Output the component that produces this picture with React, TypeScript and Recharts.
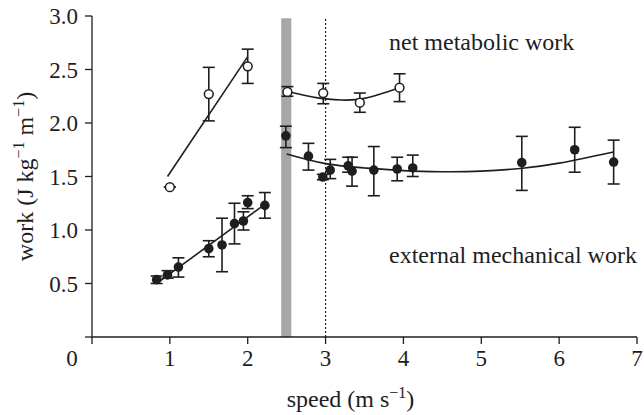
import {
  ComposedChart,
  XAxis,
  YAxis,
  Line,
  Scatter,
  ErrorBar,
  ReferenceArea,
  ReferenceLine,
  Label,
  Customized,
} from "recharts"

const INK = "#1e1e1e"
const FONT = "Liberation Serif"

// net metabolic work (open circles)
const openX = [1.0, 1.5, 2.0, 2.51, 2.97, 3.44, 3.95]
const openY = [1.4, 2.27, 2.53, 2.29, 2.28, 2.19, 2.33]
const openLo = [1.4, 2.02, 2.37, 2.25, 2.18, 2.1, 2.2]
const openHi = [1.4, 2.52, 2.69, 2.34, 2.37, 2.28, 2.46]

// external mechanical work (filled circles)
const filledX = [0.83, 0.97, 1.11, 1.5, 1.67, 1.83, 1.945, 2.0, 2.22, 2.49, 2.78, 2.965, 3.06, 3.29, 3.34, 3.62, 3.92, 4.12, 5.52, 6.2, 6.7]
const filledY = [0.536, 0.58, 0.654, 0.826, 0.86, 1.06, 1.084, 1.256, 1.23, 1.88, 1.69, 1.495, 1.56, 1.6, 1.55, 1.56, 1.57, 1.58, 1.63, 1.75, 1.635]
const filledLo = [0.5, 0.55, 0.56, 0.75, 0.61, 0.87, 1.0, 1.2, 1.11, 1.77, 1.56, 1.47, 1.48, 1.54, 1.41, 1.32, 1.46, 1.5, 1.37, 1.54, 1.43]
const filledHi = [0.57, 0.62, 0.74, 0.9, 1.11, 1.25, 1.17, 1.32, 1.35, 1.97, 1.81, 1.52, 1.66, 1.68, 1.68, 1.78, 1.68, 1.7, 1.875, 1.96, 1.84]

// fitted lines
const openFitLeftX = [0.97, 2.0]
const openFitLeftY = [1.5, 2.62]
const openFitRightX = [2.54, 2.9, 3.2, 3.5, 3.95]
const openFitRightY = [2.29, 2.235, 2.215, 2.23, 2.33]
const filledFitLeftX = [0.85, 2.22]
const filledFitLeftY = [0.51, 1.24]
const filledFitRightX = [2.5, 3.0, 3.5, 4.0, 4.5, 5.0, 5.5, 6.0, 6.7]
const filledFitRightY = [1.71, 1.62, 1.58, 1.555, 1.545, 1.55, 1.575, 1.625, 1.73]

const xTicks = [0, 1, 2, 3, 4, 5, 6, 7]
const yTicks = [0, 0.5, 1.0, 1.5, 2.0, 2.5, 3.0]

const pts = (xs: number[], ys: number[], lo: number[], hi: number[]) =>
  xs.map((x, i) => ({ x, y: ys[i], err: [ys[i] - lo[i], hi[i] - ys[i]] }))
const fit = (xs: number[], ys: number[]) => xs.map((x, i) => ({ x, y: ys[i] }))

const openData = pts(openX, openY, openLo, openHi)
const filledData = pts(filledX, filledY, filledLo, filledHi)

const txt = { fontFamily: FONT }

const XTick = (p: any) => {
  const v = p.payload.value
  return (
    <text x={v === 0 ? p.x - 20 : p.x} y={p.y} dy="0.71em" textAnchor="middle" style={txt} fontSize={23} fill={INK}>
      {v}
    </text>
  )
}

const YTick = (p: any) => {
  const v = p.payload.value
  if (v === 0) return <g />
  return (
    <text x={p.x} y={p.y} dy="0.355em" textAnchor="end" style={txt} fontSize={23} fill={INK}>
      {v.toFixed(1)}
    </text>
  )
}

const XLabel = (p: any) => {
  const vb = p.viewBox
  return (
    <text x={vb.x + vb.width / 2 - 14} y={vb.y + 70} textAnchor="middle" style={txt} fontSize={24} fill={INK}>
      speed (m s
      <tspan fontSize={16} dy={-9}>−1</tspan>
      <tspan dy={9}>)</tspan>
    </text>
  )
}

const YLabel = (p: any) => {
  const vb = p.viewBox
  const cx = 33
  const cy = vb.y + vb.height / 2
  return (
    <text x={cx} y={cy} transform={`rotate(-90, ${cx}, ${cy})`} textAnchor="middle" style={txt} fontSize={24} fill={INK}>
      work (J kg
      <tspan fontSize={16} dy={-9}>−1</tspan>
      <tspan dy={9}> m</tspan>
      <tspan fontSize={16} dy={-9}>−1</tspan>
      <tspan dy={9}>)</tspan>
    </text>
  )
}

const Notes = () => (
  <g style={txt} fontSize={24} fill={INK}>
    <text x={389} y={50}>net metabolic work</text>
    <text x={389} y={263}>external mechanical work</text>
  </g>
)

export default function App() {
  return (
    <div style={{ position: "absolute", left: 0, top: 0, background: "#fff" }}>
      <ComposedChart width={644} height={415} margin={{ top: 16, right: 7, left: 0, bottom: 0 }}>
        <XAxis
          dataKey="x"
          type="number"
          domain={[0, 7]}
          ticks={xTicks}
          tick={XTick}
          tickSize={7}
          tickMargin={6}
          height={78}
          stroke={INK}
          strokeWidth={1.3}
          allowDataOverflow
        >
          <Label content={XLabel} />
        </XAxis>
        <YAxis
          dataKey="y"
          type="number"
          domain={[0, 3]}
          ticks={yTicks}
          tick={YTick}
          tickSize={7}
          tickMargin={7}
          width={92}
          stroke={INK}
          strokeWidth={1.3}
          allowDataOverflow
        >
          <Label content={YLabel} />
        </YAxis>
        <ReferenceArea x1={2.43} x2={2.56} y1={0} y2={2.98} fill="#a7a7a9" fillOpacity={1} stroke="none" />
        <ReferenceLine
          segment={[{ x: 3, y: 0 }, { x: 3, y: 2.98 }]}
          stroke={INK}
          strokeWidth={1.2}
          strokeDasharray="2 2"
        />
        <Line data={fit(openFitLeftX, openFitLeftY)} dataKey="y" type="linear" stroke={INK} strokeWidth={1.6} dot={false} isAnimationActive={false} />
        <Line data={fit(openFitRightX, openFitRightY)} dataKey="y" type="natural" stroke={INK} strokeWidth={1.6} dot={false} isAnimationActive={false} />
        <Line data={fit(filledFitLeftX, filledFitLeftY)} dataKey="y" type="linear" stroke={INK} strokeWidth={1.6} dot={false} isAnimationActive={false} />
        <Line data={fit(filledFitRightX, filledFitRightY)} dataKey="y" type="natural" stroke={INK} strokeWidth={1.6} dot={false} isAnimationActive={false} />
        <Scatter
          data={filledData}
          dataKey="y"
          isAnimationActive={false}
          shape={(p: any) => <circle cx={p.cx} cy={p.cy} r={4.8} fill={INK} />}
        >
          <ErrorBar dataKey="err" direction="y" width={6} stroke={INK} strokeWidth={1.6} isAnimationActive={false} />
        </Scatter>
        <Scatter
          data={openData}
          dataKey="y"
          isAnimationActive={false}
          shape={(p: any) => <circle cx={p.cx} cy={p.cy} r={4.4} fill="#fff" stroke={INK} strokeWidth={1.5} />}
        >
          <ErrorBar dataKey="err" direction="y" width={6} stroke={INK} strokeWidth={1.6} isAnimationActive={false} />
        </Scatter>
        <Customized component={Notes} />
      </ComposedChart>
    </div>
  )
}
